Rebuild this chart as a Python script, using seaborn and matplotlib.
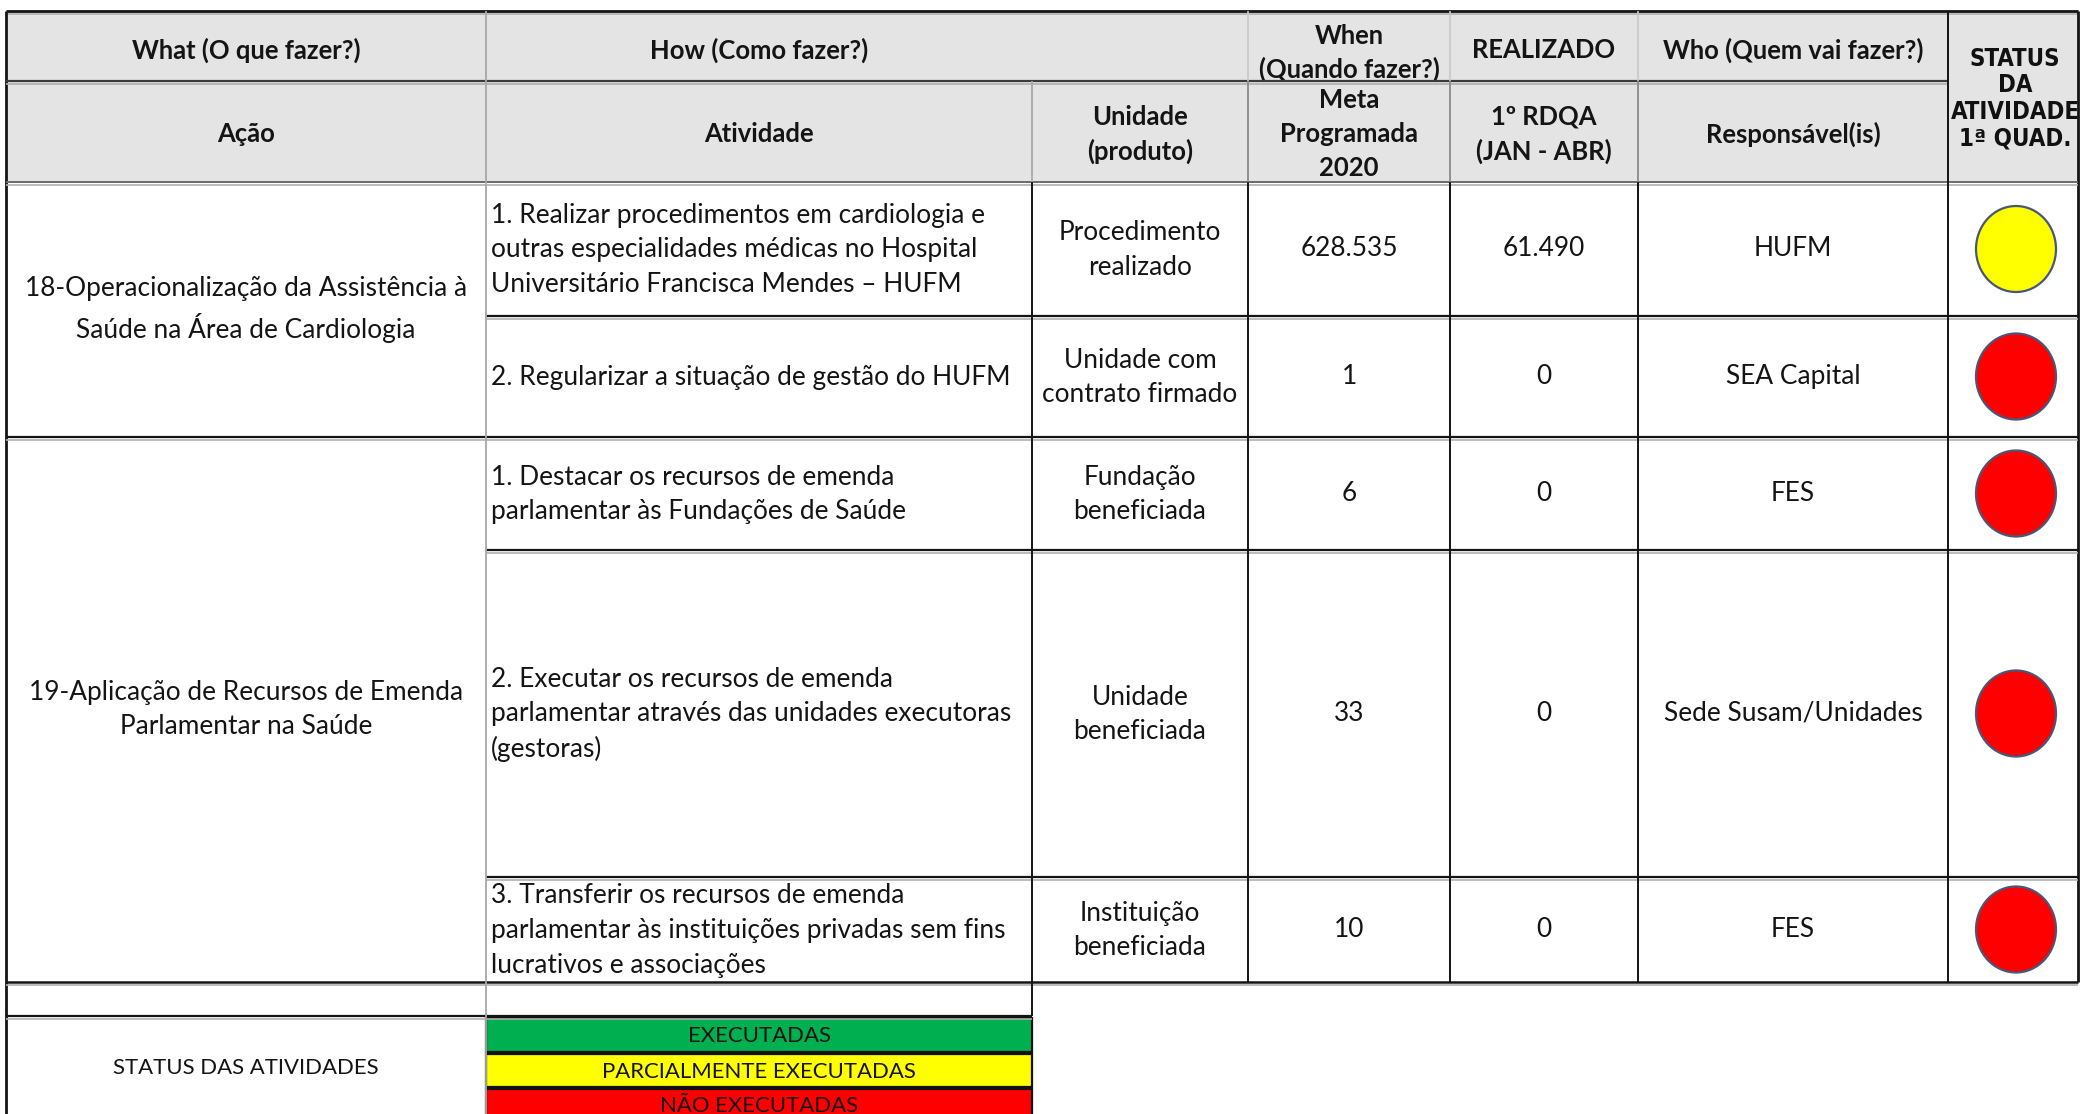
import matplotlib
matplotlib.use("Agg")
import matplotlib.pyplot as plt
import seaborn as sns
import pandas as pd
from matplotlib import font_manager
from matplotlib.patches import Rectangle
from matplotlib.path import Path
from matplotlib.transforms import Affine2D

# ---------------- data ----------------
header_top = ["What (O que fazer?)", "How (Como fazer?)", "", "When\n(Quando fazer?)",
              "REALIZADO", "Who (Quem vai fazer?)"]
header_sub = ["Ação", "Atividade", "Unidade\n(produto)", "Meta\nProgramada\n2020",
              "1º RDQA\n(JAN - ABR)", "Responsável(is)"]
status_header = "STATUS\nDA\nATIVIDADE\n1ª QUAD."

acoes = ["18-Operacionalização da Assistência à\nSaúde na Área de Cardiologia",
         "19-Aplicação de Recursos de Emenda\nParlamentar na Saúde"]
atividades_por_acao = [2, 3]
atividades = [
    "1. Realizar procedimentos em cardiologia e\noutras especialidades médicas no Hospital\nUniversitário Francisca Mendes – HUFM",
    "2. Regularizar a situação de gestão do HUFM",
    "1. Destacar os recursos de emenda\nparlamentar às Fundações de Saúde",
    "2. Executar os recursos de emenda\nparlamentar através das unidades executoras\n(gestoras)",
    "3. Transferir os recursos de emenda\nparlamentar às instituições privadas sem fins\nlucrativos e associações",
]
unidades = ["Procedimento\nrealizado", "Unidade com\ncontrato firmado", "Fundação\nbeneficiada",
            "Unidade\nbeneficiada", "Instituição\nbeneficiada"]
metas = ["628.535", "1", "6", "33", "10"]
realizados = ["61.490", "0", "0", "0", "0"]
responsaveis = ["HUFM", "SEA Capital", "FES", "Sede Susam/Unidades", "FES"]
status = ["PARCIALMENTE EXECUTADAS", "NÃO EXECUTADAS", "NÃO EXECUTADAS",
          "NÃO EXECUTADAS", "NÃO EXECUTADAS"]

legenda_titulo = "STATUS DAS ATIVIDADES"
legenda_status = ["EXECUTADAS", "PARCIALMENTE EXECUTADAS", "NÃO EXECUTADAS"]
legenda_cores = ["#00B050", "#FFFF00", "#FF0000"]

# ---------------- layout ----------------
col_x = [6, 486, 1032, 1248, 1450, 1638, 1948, 2078]
row_y = [11, 81, 182, 316, 437, 550, 877, 982, 1016, 1052, 1087, 1122]

sns.set_theme(style="white")
plt.rcParams['font.family'] = ['Lato', 'DejaVu Sans']

names = {f.name for f in font_manager.fontManager.ttflist}
if 'Liberation Sans Narrow' in names:
    status_font = dict(family=['Liberation Sans Narrow', 'DejaVu Sans'], fontweight='bold')
else:
    cond = [f for f in font_manager.fontManager.ttflist
            if f.name == 'DejaVu Sans' and 'ondensed' in str(f.stretch)]
    if cond:
        status_font = dict(family=['DejaVu Sans'], fontweight='bold', fontstretch='condensed')
    else:
        status_font = dict(family=['Roboto', 'DejaVu Sans'], fontweight='bold')

W, H = 2083, 1114
fig = plt.figure(figsize=(W / 100, H / 100), dpi=100)
ax = fig.add_axes([0, 0, 1, 1])
renderer = fig.canvas.get_renderer()


def fit(text, target, **kw):
    t = ax.text(0, 0, text, fontsize=20, **kw)
    w = t.get_window_extent(renderer).width
    t.remove()
    return 20 * target / w


TXT = "#141414"
fs_body = fit("1. Realizar procedimentos em cardiologia e", 492)
fs_head = fit("What (O que fazer?)", 229, fontweight='bold')
fs_stat = fit("ATIVIDADE", 129, **status_font)
fs_leg = fit("PARCIALMENTE EXECUTADAS", 314)
LS_BODY = 1.48

# header background
ax.add_patch(Rectangle((col_x[0], row_y[0]), col_x[-1] - col_x[0], row_y[2] - row_y[0],
                       facecolor="#e4e4e4", edgecolor="none", zorder=0))

# header texts
top_centers = [(col_x[0] + col_x[1]) / 2, (col_x[1] + col_x[2]) / 2, (col_x[2] + col_x[3]) / 2,
               (col_x[3] + col_x[4]) / 2, (col_x[4] + col_x[5]) / 2, (col_x[5] + col_x[6]) / 2]
for cx, t in zip(top_centers, header_top):
    if t:
        dy = 7 if "\n" in t else 4
        ax.text(cx, (row_y[0] + row_y[1]) / 2 + dy, t, ha='center', va='center',
                fontsize=fs_head, fontweight='bold', color=TXT, linespacing=1.38, zorder=3)
for cx, t in zip(top_centers, header_sub):
    ax.text(cx, (row_y[1] + row_y[2]) / 2 + 3, t, ha='center', va='center',
            fontsize=fs_head, fontweight='bold', color=TXT, linespacing=1.5, zorder=3)
ax.text((col_x[6] + col_x[7]) / 2 + 2, (row_y[0] + row_y[2]) / 2 + 2, status_header,
        ha='center', va='center', fontsize=fs_stat, color="#111111", linespacing=1.13,
        zorder=3, **status_font)

# body rows
centers = [(row_y[2 + i] + row_y[3 + i]) / 2 for i in range(len(atividades))]
start = 0
for acao, n in zip(acoes, atividades_por_acao):
    y0, y1 = row_y[2 + start], row_y[2 + start + n]
    ax.text((col_x[0] + col_x[1]) / 2, (y0 + y1) / 2, acao, ha='center', va='center',
            fontsize=fs_body, color=TXT, linespacing=LS_BODY)
    start += n

for i, cy in enumerate(centers):
    ax.text(col_x[1] + 5, cy + 1, atividades[i], ha='left', va='center',
            fontsize=fs_body, color=TXT, linespacing=LS_BODY)
    ax.text((col_x[2] + col_x[3]) / 2, cy + 1, unidades[i], ha='center', va='center',
            fontsize=fs_body, color=TXT, linespacing=LS_BODY)
    ax.text((col_x[3] + col_x[4]) / 2, cy, metas[i], ha='center', va='center',
            fontsize=fs_body, color=TXT)
    ax.text((col_x[4] + col_x[5]) / 2, cy, realizados[i], ha='center', va='center',
            fontsize=fs_body, color=TXT)
    ax.text((col_x[5] + col_x[6]) / 2, cy, responsaveis[i], ha='center', va='center',
            fontsize=fs_body, color=TXT)

# status circles via seaborn
df = pd.DataFrame({
    "x": [(col_x[6] + col_x[7]) / 2 + 3] * len(status),
    "y": centers,
    "status": status,
})
ellipse = Path.unit_circle().transformed(Affine2D().scale(0.93, 1.0))
sns.scatterplot(data=df, x="x", y="y", hue="status",
                palette=dict(zip(legenda_status, legenda_cores)),
                marker=ellipse, s=(86 * 0.72) ** 2, edgecolor="#4a5678", linewidth=1.6,
                legend=False, ax=ax, zorder=5)

# legend block
for k, (lab, col) in enumerate(zip(legenda_status, legenda_cores)):
    ya, yb = row_y[8 + k], row_y[9 + k]
    ax.add_patch(Rectangle((col_x[1], ya + 2), col_x[2] - col_x[1], yb - ya - 2,
                           facecolor=col, edgecolor="#111111", linewidth=1.6, zorder=2))
    ax.text((col_x[1] + col_x[2]) / 2, (ya + yb) / 2 + 2, lab, ha='center', va='center',
            fontsize=fs_leg, color=TXT, zorder=3)
ax.text((col_x[0] + col_x[1]) / 2, (row_y[8] + row_y[11]) / 2 - 1, legenda_titulo,
        ha='center', va='center', fontsize=fs_leg, color=TXT)

# ---------------- grid lines ----------------
BLK = "#141414"
GRY = "#a8a8a8"


def hline(y, x0, x1, color=BLK, lw=1.6, shadow=True):
    ax.plot([x0, x1], [y, y], color=color, lw=lw, solid_capstyle='butt', zorder=4)
    if shadow:
        ax.plot([x0, x1], [y + 2.5, y + 2.5], color="#b0b0b0", lw=1.2,
                solid_capstyle='butt', zorder=4)


def vline(x, y0, y1, color=BLK, lw=1.4):
    ax.plot([x, x], [y0, y1], color=color, lw=lw, solid_capstyle='butt', zorder=4)


# outer border
hline(row_y[0], col_x[0], col_x[-1], lw=2.0)
vline(col_x[0], row_y[0], H + 5, lw=2.0)
vline(col_x[-1], row_y[0], row_y[7], lw=2.0)
# header separators
hline(row_y[1], col_x[0], col_x[6], color="#3a3a3a", lw=1.6)
hline(row_y[2], col_x[0], col_x[-1], color="#6a6a6a", lw=1.4)
# body row separators
hline(row_y[3], col_x[1], col_x[-1])
hline(row_y[4], col_x[0], col_x[-1])
hline(row_y[5], col_x[1], col_x[-1])
hline(row_y[6], col_x[1], col_x[-1])
hline(row_y[7], col_x[0], col_x[-1], lw=1.8)
hline(row_y[8], col_x[0], col_x[2], lw=1.6)

# verticals
vline(col_x[1], row_y[0], H + 5, color=GRY, lw=1.3)
vline(col_x[2], row_y[1], row_y[2], color=GRY, lw=1.3)
vline(col_x[2], row_y[2], row_y[8], lw=1.4)
for cx in col_x[3:6]:
    vline(cx, row_y[0], row_y[1], color="#c8c8c8", lw=1.2)
    vline(cx, row_y[1], row_y[2], color="#8a8a8a", lw=1.3)
    vline(cx, row_y[2], row_y[7], lw=1.4)
vline(col_x[6], row_y[0], row_y[7], lw=1.4)

ax.set_xlim(0, W)
ax.set_ylim(H, 0)
ax.axis('off')
fig.savefig("out.png", dpi=100, facecolor="white")
